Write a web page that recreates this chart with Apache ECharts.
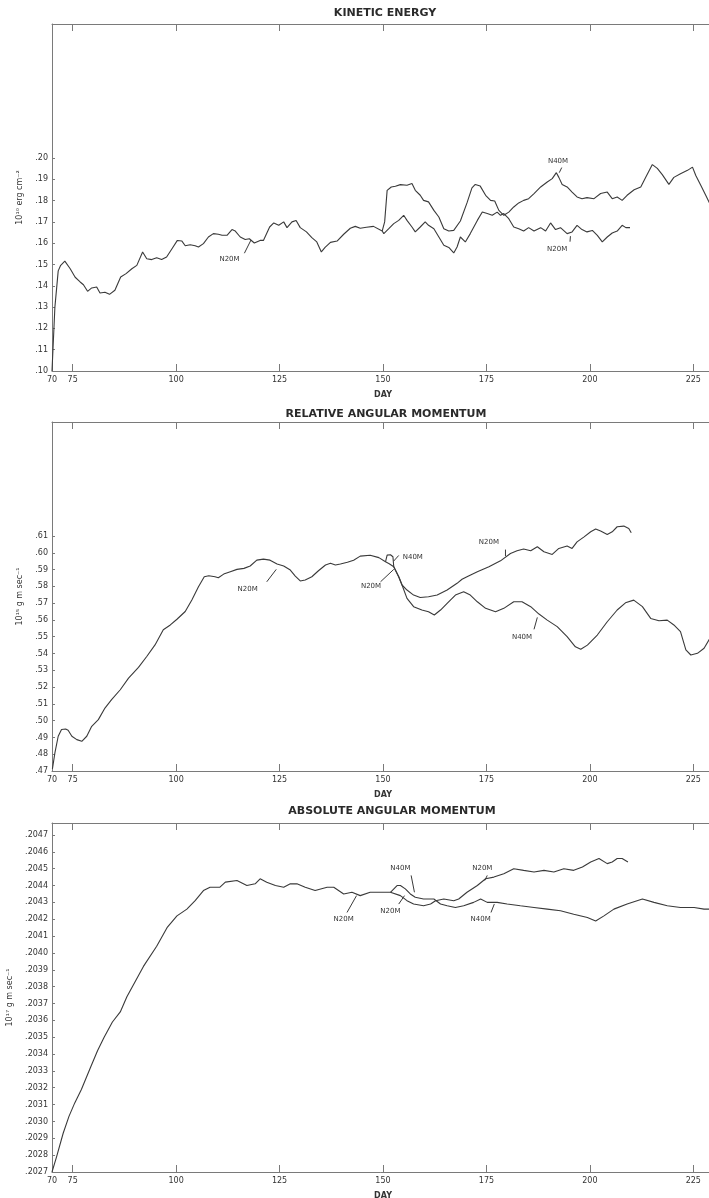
<!DOCTYPE html>
<html>
<head>
<meta charset="utf-8">
<script src="https://cdn.jsdelivr.net/npm/echarts@6/dist/echarts.min.js"></script>
<style>
  html, body { margin: 0; padding: 0; background: #ffffff; }
  #chart { width: 709px; height: 1198px; }
</style>
</head>
<body>
<div id="chart"></div>
<script>
// ---- axis ticks ----
const dayLabels = [70, 75, 100, 125, 150, 175, 200, 225];
const dayTicks = [75, 100, 125, 150, 175, 200, 225];
const keTicks = [0.10, 0.11, 0.12, 0.13, 0.14, 0.15, 0.16, 0.17, 0.18, 0.19, 0.20];
const relTicks = [0.47, 0.48, 0.49, 0.50, 0.51, 0.52, 0.53, 0.54, 0.55, 0.56, 0.57, 0.58, 0.59, 0.60, 0.61];
const absTicks = [0.2027, 0.2028, 0.2029, 0.2030, 0.2031, 0.2032, 0.2033, 0.2034, 0.2035, 0.2036, 0.2037,
                  0.2038, 0.2039, 0.2040, 0.2041, 0.2042, 0.2043, 0.2044, 0.2045, 0.2046, 0.2047];

// ---- kinetic energy (10^10 erg cm^-2), [day, value] ----
const keN20M = [
  [70.0,.100],[70.7,.130],[71.5,.147],[72.1,.1496],[73.1,.1516],[73.5,.1510],[74.4,.1480],[75.6,.1440],
  [76.8,.1418],[77.6,.1405],[78.6,.1374],[79.6,.1390],[80.8,.1394],[81.6,.1366],[82.8,.1370],[83.9,.1360],
  [85.2,.1379],[86.6,.1441],[87.9,.1457],[89.3,.1480],[90.5,.1496],[91.9,.1559],[92.9,.1527],[94.1,.1523],
  [95.3,.1532],[96.5,.1523],[97.7,.1535],[99.0,.1574],[100.3,.1613],[101.4,.1610],[102.2,.1588],[103.4,.1593],
  [104.6,.1588],[105.4,.1582],[106.6,.1598],[107.8,.1629],[109.0,.1645],[110.2,.1642],[111.1,.1637],[112.3,.1637],
  [113.5,.1664],[114.3,.1657],[115.5,.1629],[116.7,.1617],[117.7,.1621],[118.9,.1601],[120.3,.1613],[121.1,.1613],
  [122.6,.1676],[123.6,.1695],[124.8,.1684],[126.0,.1700],[126.8,.1673],[128.0,.1700],[129.0,.1707],[130.0,.1673],
  [131.5,.1653],[132.8,.1626],[134.0,.1606],[135.1,.1559],[136.0,.1580],[137.3,.1604],[138.9,.1610],[140.5,.1642],
  [142.1,.1670],[143.3,.1679],[144.5,.1670],[146.0,.1675],[147.7,.1679],[149.8,.1657],
  [150.2,.1645],[151.4,.1668],[152.6,.1692],[153.8,.1707],[155.0,.1731],[155.8,.1707],[157.0,.1676],[157.8,.1653],
  [159.0,.1676],[160.2,.1700],[161.0,.1684],[162.3,.1668],[163.5,.1629],[164.7,.1590],[165.9,.1580],[167.1,.1554],
  [167.9,.1582],[168.7,.1629],[169.9,.1606],[171.1,.1645],[172.8,.1707],[174.0,.1746],[175.2,.1739],[176.4,.1731],
  [177.6,.1746],[178.4,.1731],[179.2,.1739],[180.4,.1715],[181.6,.1676],[182.8,.1668],[184.0,.1657],[185.2,.1673],
  [186.5,.1657],[188.1,.1673],[189.3,.1657],[190.5,.1695],[191.7,.1664],[192.9,.1673],[194.5,.1645],[195.7,.1653],
  [196.9,.1684],[198.1,.1664],[199.3,.1653],[200.6,.1660],[201.8,.1637],[203.0,.1606],[204.2,.1629],[205.4,.1648],
  [206.6,.1657],[207.8,.1684],[208.7,.1673],[209.7,.1673]
];
const keN40M = [
  [149.8,.1657],[150.4,.1700],[151.0,.1848],[152.0,.1864],[153.0,.1867],[154.2,.1875],[155.8,.1872],[157.0,.1880],
  [157.8,.1848],[159.0,.1825],[159.8,.1801],[161.0,.1794],[162.3,.1754],[163.5,.1723],[164.7,.1668],[165.9,.1657],
  [167.1,.1660],[168.7,.1704],[170.3,.1789],[171.5,.1860],[172.3,.1876],[173.5,.1868],[174.8,.1825],[176.0,.1801],
  [177.0,.1798],[178.0,.1754],[179.2,.1731],[180.4,.1746],[181.6,.1770],[182.8,.1789],[184.0,.1801],[185.2,.1809],
  [186.5,.1833],[188.1,.1864],[189.7,.1887],[190.9,.1903],[191.9,.1931],[192.5,.1909],[193.3,.1876],[194.5,.1864],
  [195.7,.1840],[196.9,.1817],[198.1,.1809],[199.3,.1814],[201.0,.1809],[202.6,.1833],[204.2,.1840],[205.4,.1809],
  [206.6,.1817],[207.8,.1801],[209.0,.1825],[210.7,.1851],[212.3,.1864],[213.5,.1909],[215.1,.1969],[216.3,.1951],
  [217.5,.1922],[219.1,.1876],[220.3,.1909],[221.9,.1926],[223.6,.1942],[224.8,.1957],[225.6,.1918],[226.8,.1872],
  [228.0,.1825],[229.0,.1785],[230.0,.1770]
];

// ---- relative angular momentum (10^15 g m sec^-1) ----
const relN20M = [
  [70.1,.4713],[70.7,.4808],[71.5,.4907],[72.3,.4947],[73.3,.4950],[73.9,.4943],[74.8,.4907],[76.0,.4887],
  [77.2,.4877],[78.4,.4907],[79.6,.4966],[81.2,.5006],[82.8,.5075],[84.4,.5125],[86.5,.5184],[88.5,.5253],
  [90.9,.5317],[92.9,.5382],[94.9,.5451],[96.9,.5541],[98.6,.5570],[100.2,.5604],[102.2,.5650],[103.8,.5719],
  [105.4,.5798],[106.8,.5857],[107.9,.5863],[109.4,.5857],[110.2,.5851],[111.5,.5873],[113.1,.5887],[114.7,.5901],
  [116.4,.5907],[117.9,.5921],[119.5,.5956],[121.1,.5962],[122.7,.5956],[124.4,.5933],[126.0,.5921],[127.6,.5897],
  [128.8,.5861],[130.0,.5832],[131.2,.5838],[132.8,.5857],[134.4,.5893],[136.1,.5927],[137.3,.5937],[138.5,.5927],
  [139.7,.5933],[141.4,.5943],[142.9,.5956],[144.5,.5980],[146.9,.5985],[149.0,.5971],[150.6,.5946],
  [151.5,.5935],[152.6,.5917],[153.8,.5857],[154.6,.5808],
  [155.8,.5778],[157.4,.5748],[159.0,.5734],[161.0,.5738],[163.1,.5748],[165.5,.5778],[167.9,.5818],[169.1,.5842],
  [170.3,.5857],[172.8,.5887],[175.6,.5917],[178.4,.5952],[180.8,.5996],[182.4,.6012],[184.0,.6022],[185.7,.6012],
  [187.3,.6036],[188.9,.6006],[190.9,.5990],[192.5,.6026],[194.5,.6040],[195.7,.6026],[196.9,.6065],[198.6,.6095],
  [200.2,.6125],[201.4,.6141],[202.6,.6129],[204.2,.6109],[205.4,.6125],[206.6,.6155],[208.2,.6159],[209.4,.6145],
  [210.0,.6119]
];
const relN40M = [
  [150.6,.5946],[151.0,.5986],[151.8,.5988],[152.4,.5976],[152.6,.5917],[153.8,.5857],[154.6,.5808],
  [155.8,.5728],[157.4,.5679],[159.4,.5659],[161.0,.5649],[162.4,.5629],[163.9,.5659],[165.5,.5699],[167.5,.5748],
  [169.5,.5768],[171.1,.5748],[172.8,.5708],[174.8,.5669],[177.2,.5649],[179.2,.5669],[181.6,.5708],[183.6,.5708],
  [185.7,.5679],[187.7,.5635],[189.7,.5599],[192.1,.5560],[194.5,.5500],[196.5,.5440],[197.8,.5425],[199.4,.5450],
  [201.8,.5510],[204.2,.5589],[206.6,.5659],[208.6,.5702],[210.6,.5718],[212.7,.5679],[214.7,.5609],[216.7,.5595],
  [218.7,.5599],[220.3,.5570],[221.9,.5530],[223.2,.5421],[224.4,.5391],[226.0,.5401],[227.6,.5431],[229.0,.5490],
  [230.0,.5510]
];

// ---- absolute angular momentum (10^17 g m sec^-1) ----
const absN20M = [
  [70.0,.20270],[71.1,.20279],[72.7,.20293],[74.1,.20303],[75.5,.20311],[77.1,.20319],[79.3,.20332],[81.0,.20342],
  [82.6,.20350],[84.6,.20359],[86.5,.20365],[88.1,.20374],[92.1,.20392],[95.3,.20404],[97.8,.20415],[100.2,.20422],
  [102.6,.20426],[104.6,.20431],[106.6,.20437],[108.2,.20439],[110.6,.20439],[111.9,.20442],[114.7,.20443],[117.1,.20440],
  [119.1,.20441],[120.3,.20444],[121.9,.20442],[124.0,.20440],[126.0,.20439],[127.6,.20441],[129.2,.20441],[131.2,.20439],
  [133.6,.20437],[136.5,.20439],[138.1,.20439],[140.5,.20435],[142.5,.20436],[144.5,.20434],[146.9,.20436],[149.8,.20436],
  [151.8,.20436],
  [154.2,.20434],[155.8,.20431],[157.4,.20429],[159.8,.20428],[161.5,.20429],[162.7,.20431],[164.7,.20432],[167.1,.20431],
  [168.3,.20432],[170.3,.20436],[172.8,.20440],[174.8,.20444],[176.8,.20445],[179.2,.20447],[181.6,.20450],[184.0,.20449],
  [186.5,.20448],[188.9,.20449],[191.3,.20448],[193.7,.20450],[196.1,.20449],[198.2,.20451],[200.2,.20454],[202.2,.20456],
  [204.2,.20453],[205.4,.20454],[206.6,.20456],[207.8,.20456],[209.2,.20454]
];
const absN40M = [
  [151.8,.20436],[153.4,.20440],[154.2,.20440],[155.4,.20438],[156.6,.20435],[157.8,.20433],[159.8,.20432],[162.3,.20432],
  [163.9,.20429],[165.5,.20428],[167.5,.20427],[169.5,.20428],[171.9,.20430],[173.6,.20432],[175.2,.20430],[177.6,.20430],
  [180.0,.20429],[183.2,.20428],[186.5,.20427],[189.7,.20426],[192.9,.20425],[196.1,.20423],[199.4,.20421],[201.4,.20419],
  [203.4,.20422],[205.8,.20426],[209.0,.20429],[212.7,.20432],[215.5,.20430],[218.7,.20428],[221.9,.20427],[225.2,.20427],
  [227.6,.20426],[230.0,.20426]
];

// ---- curve labels: text position and leader line, in data units ----
const curveNotes = [
  { panel: 0, text: 'N20M', at: [112.9, .1524], from: [116.5, .1553], to: [118.1, .1615] },
  { panel: 0, text: 'N40M', at: [192.3, .1985], from: [193.2, .1955], to: [192.6, .1931] },
  { panel: 0, text: 'N20M', at: [192.1, .1574], from: [195.2, .1607], to: [195.3, .1633] },
  { panel: 1, text: 'N20M', at: [117.3, .5782], from: [121.9, .5827], to: [124.2, .5901] },
  { panel: 1, text: 'N40M', at: [157.2, .5976], from: [153.8, .5984], to: [152.6, .5951] },
  { panel: 1, text: 'N20M', at: [147.1, .5798], from: [149.4, .5827], to: [152.6, .5901] },
  { panel: 1, text: 'N20M', at: [175.6, .6062], from: [179.6, .6019], to: [179.6, .5980] },
  { panel: 1, text: 'N40M', at: [183.6, .5500], from: [186.5, .5544], to: [187.3, .5615] },
  { panel: 2, text: 'N20M', at: [140.5, .20420], from: [141.3, .20424], to: [143.6, .20434] },
  { panel: 2, text: 'N40M', at: [154.2, .20450], from: [156.8, .20446], to: [157.6, .20436] },
  { panel: 2, text: 'N20M', at: [151.8, .20425], from: [153.8, .20429], to: [155.2, .20434] },
  { panel: 2, text: 'N20M', at: [174.0, .20450], from: [175.2, .20446], to: [174.6, .20443] },
  { panel: 2, text: 'N40M', at: [173.6, .20420], from: [176.1, .20424], to: [176.9, .20429] }
];

const panelTitles = ['KINETIC ENERGY', 'RELATIVE ANGULAR MOMENTUM', 'ABSOLUTE ANGULAR MOMENTUM'];
const panelUnits = ['10\u00b9\u2070 erg cm\u207b\u00b2', '10\u00b9\u2075 g m sec\u207b\u00b9', '10\u00b9\u2077 g m sec\u207b\u00b9'];

// ---- layout ----
const FONT = '"DejaVu Sans", "Liberation Sans", sans-serif';
const INK = '#333333';
const AXIS = '#7a7a7a';
const panels = [
  { top: 24,  height: 347, min: 0.10,   max: 0.2629,  ticks: keTicks,  fmt: v => '.' + Math.round(v * 100),   nameGap: 27, series: [keN20M, keN40M],  titleX: 385, titleY: 13 },
  { top: 422, height: 349, min: 0.47,   max: 0.6779,  ticks: relTicks, fmt: v => '.' + Math.round(v * 100),   nameGap: 27, series: [relN20M, relN40M], titleX: 386, titleY: 414 },
  { top: 823, height: 349, min: 0.2027, max: 0.204771, ticks: absTicks, fmt: v => '.' + Math.round(v * 10000), nameGap: 38, series: [absN20M, absN40M], titleX: 392, titleY: 811 }
];

const grid = [], xAxis = [], yAxis = [], series = [];
panels.forEach((p, i) => {
  // the frame runs a little past the right edge of the page
  grid.push({ left: 52, top: p.top, width: 662, height: p.height, containLabel: false, outerBoundsMode: 'none' });
  // bottom day axis
  xAxis.push({
    type: 'value', gridIndex: i, min: 70, max: 230, position: 'bottom',
    axisLine: { show: true, onZero: false, lineStyle: { color: AXIS, width: 1 } },
    axisTick: { show: true, inside: true, length: 7, customValues: dayTicks, lineStyle: { color: AXIS } },
    axisLabel: { customValues: dayLabels, fontSize: 8, color: INK, fontFamily: FONT, margin: 5 },
    splitLine: { show: false },
    name: 'DAY', nameLocation: 'middle', nameGap: 20,
    nameTextStyle: { fontSize: 8, fontWeight: 'bold', color: INK, fontFamily: FONT }
  });
  // top frame with matching ticks
  xAxis.push({
    type: 'value', gridIndex: i, min: 70, max: 230, position: 'top',
    axisLine: { show: true, onZero: false, lineStyle: { color: AXIS, width: 1 } },
    axisTick: { show: true, inside: true, length: 7, customValues: dayTicks, lineStyle: { color: AXIS } },
    axisLabel: { show: false }, splitLine: { show: false }
  });
  yAxis.push({
    type: 'value', gridIndex: i, min: p.min, max: p.max, position: 'left',
    axisLine: { show: true, onZero: false, lineStyle: { color: AXIS, width: 1 } },
    axisTick: { show: true, inside: true, length: 3, customValues: p.ticks, lineStyle: { color: AXIS } },
    axisLabel: { customValues: p.ticks, formatter: p.fmt, fontSize: 8, color: INK, fontFamily: FONT, margin: 4 },
    splitLine: { show: false },
    name: panelUnits[i], nameLocation: 'middle', nameGap: p.nameGap,
    nameTextStyle: { fontSize: 8, color: INK, fontFamily: FONT }
  });
  ['N20M', 'N40M'].forEach((nm, k) => {
    series.push({
      name: nm + ' ' + i, type: 'line', xAxisIndex: 2 * i, yAxisIndex: i,
      data: p.series[k], showSymbol: false, symbol: 'none', smooth: false,
      lineStyle: { color: '#3a3a3a', width: 1.1 }, z: 3
    });
  });
});

const chart = echarts.init(document.getElementById('chart'), null, { renderer: 'canvas' });
chart.setOption({
  backgroundColor: '#ffffff',
  animation: false,
  grid, xAxis, yAxis, series
});

// titles and curve labels, placed through the axes
const graphic = [];
panels.forEach((p, i) => {
  graphic.push({
    type: 'text', x: p.titleX, y: p.titleY,
    style: { text: panelTitles[i], fill: '#2a2a2a', font: 'bold 11px ' + FONT, textAlign: 'center', textVerticalAlign: 'middle' }
  });
});
curveNotes.forEach(n => {
  const finder = { xAxisIndex: 2 * n.panel, yAxisIndex: n.panel };
  const at = chart.convertToPixel(finder, n.at);
  const a = chart.convertToPixel(finder, n.from);
  const b = chart.convertToPixel(finder, n.to);
  graphic.push({
    type: 'text', x: at[0], y: at[1],
    style: { text: n.text, fill: INK, font: '7px ' + FONT, textAlign: 'center', textVerticalAlign: 'middle' }
  });
  graphic.push({
    type: 'line', shape: { x1: a[0], y1: a[1], x2: b[0], y2: b[1] },
    style: { stroke: '#3a3a3a', lineWidth: 1 }
  });
});
chart.setOption({ graphic });
</script>
</body>
</html>
